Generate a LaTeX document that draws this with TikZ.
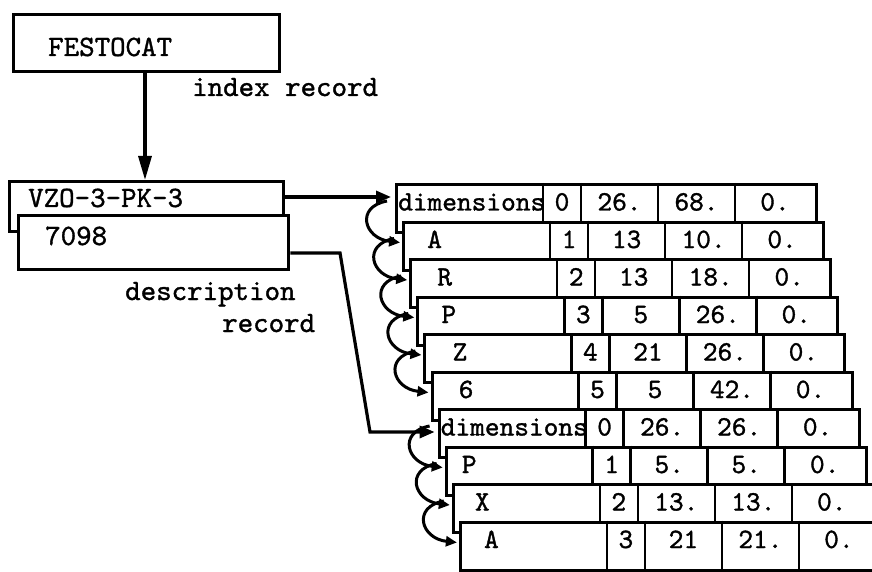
\documentclass[tikz,border=0pt]{standalone}
\usepackage{fontspec}
\newfontfamily\twfont{lmmono10-regular.otf}[FakeBold=1.2]
\usetikzlibrary{arrows.meta,calc}
\begin{document}
\begin{tikzpicture}[x=1pt,y=-1pt,
  box/.style={draw, line width=3.4pt, fill=white, anchor=north west, inner sep=0pt},
  rowbox/.style={draw, line width=3pt, fill=white, anchor=north west,
    minimum width=420pt, minimum height=48pt, inner sep=0pt},
  divider/.style={line width=2.5pt},
  lbl/.style={font=\fontsize{29.5}{32}\twfont, inner sep=0pt, anchor=base west},
  celltxt/.style={font=\fontsize{28}{30}\twfont, inner sep=0pt, anchor=base},
  rowlbl/.style={font=\fontsize{28}{30}\twfont, inner sep=0pt, anchor=base west},
  conn/.style={line width=3.2pt},
  bigtip/.style={-{Triangle[length=24pt,width=13pt]}},
  midtip/.style={-{Triangle[length=15pt,width=12pt]}},
  curl/.style={line width=3pt, -{Triangle[length=11pt,width=10pt]}}
]
\useasboundingbox (0,0) rectangle (872,572);

% index record
\node[box, minimum width=266pt, minimum height=57pt] (fest) at (12,13) {};
\node[lbl] (festt) at (48,56) {FESTOCAT};
\node[lbl] (idx) at (192,96) {index record};

% description record
\node[box, minimum width=274pt, minimum height=50pt] (vzo) at (8,180) {};
\node[box, minimum width=270pt, minimum height=54pt] (rec) at (17,214) {};
\node[lbl] (vzot) at (28,207) {VZO-3-PK-3};
\node[lbl] (rect) at (45,245) {7098};
\node[lbl] (desc1) at (125,300) {description};
\node[lbl] (desc2) at (222,332) {record};

\draw[conn, bigtip] ($(fest.south west)+(133,0)$) -- ($(vzo.north west)+(137,0)$);

% rows
\foreach \i/\lab/\off/\a/\b/\c/\d in {
  0/dimensions/3/0/26./68./0.,
  1/A/25/1/13/10./0.,
  2/R/28/2/13/18./0.,
  3/P/25/3/5/26./0.,
  4/Z/29/4/21/26./0.,
  5/6/28/5/5/42./0.,
  6/dimensions/3/0/26./26./0.,
  7/P/17/1/5./5./0.,
  8/X/23/2/13./13./0.,
  9/A/25/3/21/21./0.}{
  \pgfmathsetmacro\L{395+7.1*\i}
  \pgfmathsetmacro\T{183+37.5*\i}
  \node[rowbox] (r\i) at (\L,\T) {};
  \foreach \dx in {148,186,263,340}{
    \draw[divider] ($(r\i.north west)+(\dx,0)$) -- ($(r\i.south west)+(\dx,0)$);
  }
  \node[rowlbl] (l\i) at ($(r\i.north west)+(\off,27.5)$) {\lab};
  \node[celltxt] (ca\i) at ($(r\i.north west)+(167,27.5)$) {\a};
  \node[celltxt] (cb\i) at ($(r\i.north west)+(224.5,27.5)$) {\b};
  \node[celltxt] (cc\i) at ($(r\i.north west)+(301.5,27.5)$) {\c};
  \node[celltxt] (cd\i) at ($(r\i.north west)+(380,27.5)$) {\d};
}

% pointers into the row chains
\draw[conn, midtip] ($(vzo.north east)+(0,17)$) -- ($(r0.north west)+(-4,14)$);
\coordinate (b1) at (340,253);
\coordinate (b2) at (370,432);
\draw[conn, midtip] ($(rec.north east)+(0,39)$) -- (b1) -- (b2) -- ($(r6.north west)+(-3,24)$);

% curly links between successive rows
\foreach \i/\j in {0/1,1/2,2/3,3/4,4/5,6/7,7/8,8/9}{
  \draw[curl] ($(r\i.north west)+(-8,18)$)
     .. controls ($(r\i.north west)+(-40,24)$) and ($(r\j.north west)+(-38,18)$)
     .. ($(r\j.north west)+(-2,22)$);
}
\end{tikzpicture}
\end{document}
